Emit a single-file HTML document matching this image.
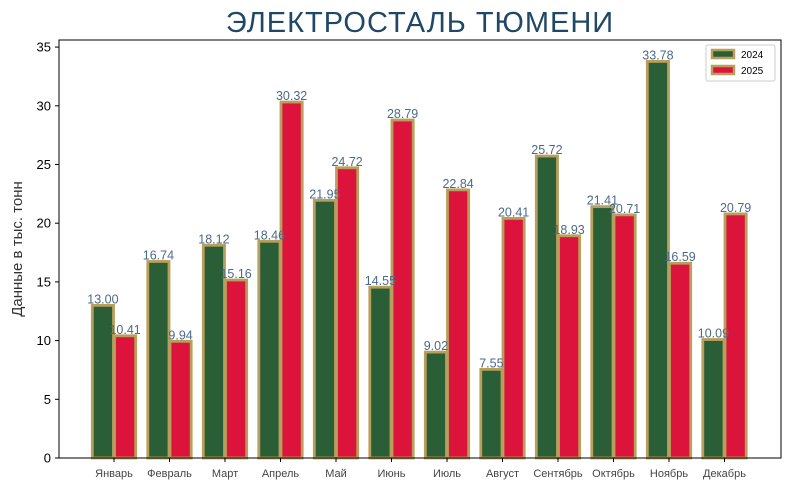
<!DOCTYPE html>
<html><head><meta charset="utf-8"><style>
body{margin:0;background:#fff;}
svg text{font-family:"Liberation Sans",sans-serif;}
</style></head><body>
<svg width="790" height="490" xmlns="http://www.w3.org/2000/svg">
<rect width="790" height="490" fill="#fff"/>
<text x="420" y="32" text-anchor="middle" font-size="29" fill="#1f4766" letter-spacing="1">ЭЛЕКТРОСТАЛЬ ТЮМЕНИ</text>
<text transform="translate(22,249) rotate(-90)" text-anchor="middle" font-size="15" fill="#333">Данные в тыс. тонн</text>
<g id="bars"></g>
<g id="labels"></g>
<rect x="59" y="40" width="722" height="418" fill="none" stroke="#000" stroke-width="1"/>
<g id="yt" font-size="13" fill="#000" text-anchor="end"></g>
<g id="xt" font-size="11" fill="#444" text-anchor="middle"></g>
<g font-size="10" fill="#000">
<rect x="706" y="45" width="69" height="36" fill="#fff" stroke="#ccc" rx="2"/>
<rect x="712" y="50" width="22" height="8" fill="#2a5e36" stroke="#b89f5c" stroke-width="2.5"/>
<text x="741" y="58">2024</text>
<rect x="712" y="66" width="22" height="8" fill="#dc143c" stroke="#b89f5c" stroke-width="2.5"/>
<text x="741" y="74">2025</text>
</g>
</svg>
<script>
const a=[13.00,16.74,18.12,18.46,21.95,14.55,9.02,7.55,25.72,21.41,33.78,10.09];
const b=[10.41,9.94,15.16,30.32,24.72,28.79,22.84,20.41,18.93,20.71,16.59,20.79];
const m=["Январь","Февраль","Март","Апрель","Май","Июнь","Июль","Август","Сентябрь","Октябрь","Ноябрь","Декабрь"];
const Y=v=>458-v*11.74;
let s="",l="";
for(let i=0;i<12;i++){
 const c=114+55.5*i;
 [[a[i],c-11.1,"#2a5e36"],[b[i],c+11.1,"#dc143c"]].forEach(([v,x,f])=>{
  s+=`<rect x="${x-10.6}" y="${Y(v)}" width="21.2" height="${v*11.74}" fill="${f}" stroke="#b89f5c" stroke-width="2.8"/>`;
  l+=`<text x="${x}" y="${Y(v)-2}" text-anchor="middle" font-size="12.5" fill="#4a6a8a">${v.toFixed(2)}</text>`;
 });
}
document.getElementById("bars").innerHTML=s;
document.getElementById("labels").innerHTML=l;
let t="";
for(let v=0;v<=35;v+=5){t+=`<line x1="55" x2="59" y1="${Y(v)}" y2="${Y(v)}" stroke="#000"/><text x="51" y="${Y(v)+4.5}">${v}</text>`;}
document.getElementById("yt").innerHTML=t;
let x="";
for(let i=0;i<12;i++){const c=114+55.5*i;x+=`<line x1="${c}" x2="${c}" y1="458" y2="462" stroke="#000"/><text x="${c}" y="477">${m[i]}</text>`;}
document.getElementById("xt").innerHTML=x;
</script>
</body></html>
